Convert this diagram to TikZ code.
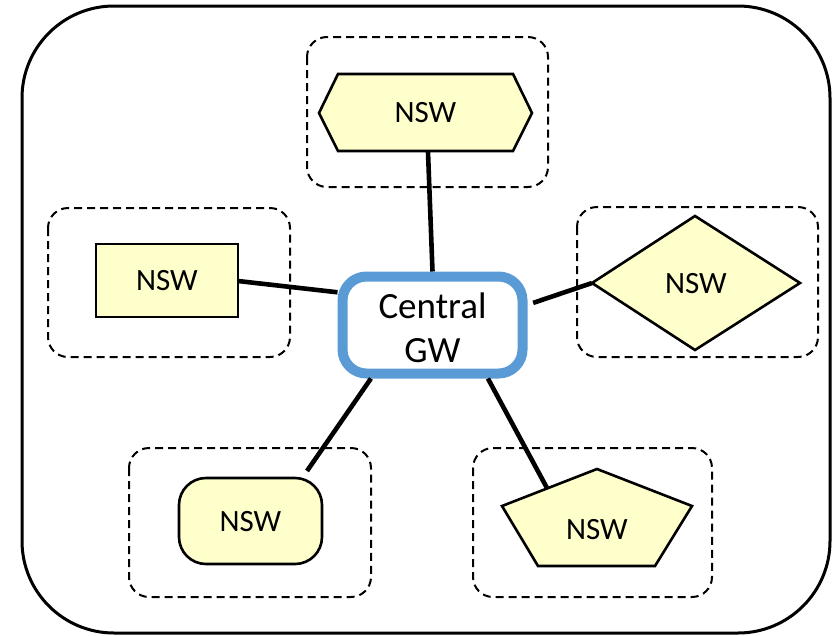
\documentclass[tikz,border=0pt]{standalone}
\usepackage{fontspec}
\setmainfont{Carlito}
\definecolor{nswfill}{RGB}{255,255,204}
\definecolor{gwblue}{RGB}{91,155,213}
\begin{document}
\begin{tikzpicture}[x=1pt,y=-1pt,
  frame/.style={draw=black, line width=3pt, rounded corners=92pt},
  group/.style={draw=black, line width=2pt, dash pattern=on 8pt off 5pt, rounded corners=20pt},
  nsw/.style={draw=black, line width=2.6pt, fill=nswfill, line join=miter},
  nswtext/.style={font=\fontsize{31}{37}\selectfont, inner sep=0pt},
  gwbox/.style={draw=gwblue, line width=10pt, rounded corners=24pt,
    minimum width=180pt, minimum height=97pt, inner sep=0pt},
  gwtext/.style={align=center, font=\fontsize{37}{44}\selectfont, inner sep=0pt},
  conn/.style={draw=black, line width=4.6pt}]
\useasboundingbox (0,0) rectangle (832,635);

% outer frame
\draw[frame] (22,6) rectangle (830,633);

% dashed groups
\draw[group] (307,37) rectangle (548,187);
\draw[group] (48,208) rectangle (290,357);
\draw[group] (577,207) rectangle (818,357);
\draw[group] (129,448) rectangle (371,597);
\draw[group] (473,448) rectangle (712,597);

% hexagon
\draw[nsw] (319,113) -- (338,74) -- (513,74) -- (532,113) -- (513,151) -- (338,151) -- cycle;
\node[nswtext] (n1) at (425.5,113) {NSW};
\coordinate (hxb) at (428,152);

% rectangle
\draw[nsw] (96,244) rectangle (238,317);
\node[nswtext] (n2) at (167,281) {NSW};
\coordinate (rcr) at (238,281);

% diamond
\draw[nsw] (592,283) -- (695,216) -- (800,283) -- (695,350) -- cycle;
\node[nswtext] (n3) at (696,283.5) {NSW};
\coordinate (dml) at (592,283);

% rounded rectangle
\draw[nsw, rounded corners=27pt] (179,478) rectangle (322,564);
\node[nswtext] (n4) at (250.5,522) {NSW};
\coordinate (rrt) at (307,471);

% pentagon
\draw[nsw] (597,469) -- (692,506) -- (655,566) -- (538,566) -- (502,506) -- cycle;
\node[nswtext] (n5) at (597,530) {NSW};
\coordinate (pge) at (547,488);

% central gateway
\node[gwbox] (gw) at (432.5,325) {};
\node[gwtext] (gwt) at (432.5,328) {Central\\GW};

% links
\draw[conn] (hxb) -- (gw.north);
\draw[conn] (rcr) -- (gw.161.7);
\draw[conn, shorten >=6pt] (dml) -- (gw.12);
\draw[conn] (rrt) -- (gw.221);
\draw[conn] (pge) -- (gw.316);
\end{tikzpicture}
\end{document}
